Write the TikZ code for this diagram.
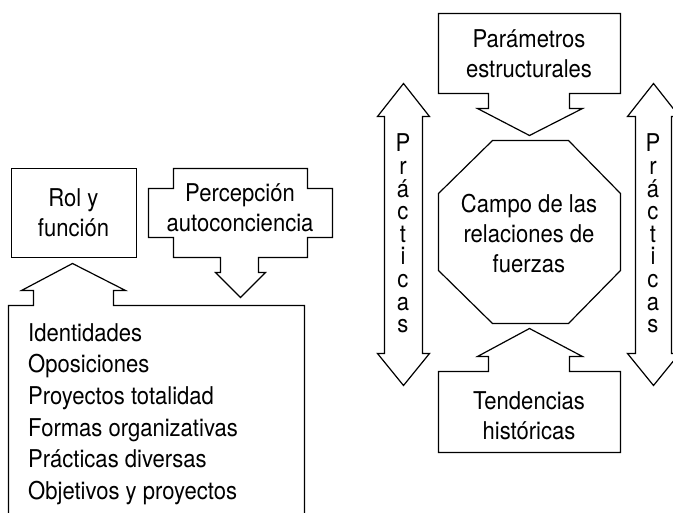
\documentclass[tikz,border=0pt]{standalone}
\usepackage{fontspec}
\setmainfont{TeX Gyre Heros}[FakeStretch=0.9]
\begin{document}
\begin{tikzpicture}[x=1pt,y=-1pt,
  shape line/.style={draw=black, line width=1.2pt, line join=miter},
  boxtext/.style={font=\fontsize{24.5}{30}\selectfont, align=center, inner sep=0pt, anchor=base},
  listtext/.style={font=\fontsize{24.5}{31.7}\selectfont, align=left, inner sep=0pt, anchor=base west},
  vtext/.style={font=\fontsize{24.5}{22.6}\selectfont, align=center, inner sep=0pt, anchor=base}]
\clip (0,0) rectangle (673,513);
\fill[white] (0,0) rectangle (673,513);

\begin{scope}[shift={(0.5,0.5)}]
% Rol y funcion
\draw[shape line] (11,168) rectangle (136,257);
% Percepcion autoconciencia
\draw[shape line] (173,168) -- (307,168) -- (307,188) -- (332,188) -- (332,237) -- (307,237) -- (307,257)
  -- (258,257) -- (258,272) -- (265,272) -- (240,297) -- (215,272) -- (220,272) -- (220,257)
  -- (173,257) -- (173,237) -- (148,237) -- (148,188) -- (173,188) -- cycle;
% Big list box
\draw[shape line] (8,530) -- (8,305) -- (33,305) -- (33,290) -- (21,290) -- (72,263) -- (125,290)
  -- (113,290) -- (113,305) -- (304,305) -- (304,530);
% Parametros estructurales
\draw[shape line] (438,13) -- (620,13) -- (620,93) -- (569,93) -- (569,108) -- (582,108) -- (529,135)
  -- (477,108) -- (488,108) -- (488,93) -- (438,93) -- cycle;
% Octagon
\draw[shape line] (492,140) -- (568,140) -- (620,193) -- (620,270) -- (568,323) -- (492,323)
  -- (438,270) -- (438,193) -- cycle;
% Tendencias historicas
\draw[shape line] (438,371) -- (488,371) -- (488,356) -- (477,356) -- (529,328) -- (582,356)
  -- (569,356) -- (569,371) -- (620,371) -- (620,452) -- (438,452) -- cycle;
% Left double arrow
\draw[shape line] (403,83) -- (429,116) -- (422,116) -- (422,353) -- (429,353) -- (403,385)
  -- (377,353) -- (384,353) -- (384,116) -- (377,116) -- cycle;
% Right double arrow
\draw[shape line] (653,83) -- (679,116) -- (671,116) -- (671,353) -- (679,353) -- (653,385)
  -- (627,353) -- (635,353) -- (635,116) -- (627,116) -- cycle;
\end{scope}

\node[boxtext] (rol) at (73.5,237) {Rol y\\función};
\node[boxtext] (perc) at (240,232) {Percepción\\autoconciencia};
\node[listtext] (lista) at (28,499.5) {Identidades\\Oposiciones\\Proyectos totalidad\\Formas organizativas\\Prácticas diversas\\Objetivos y proyectos};
\node[boxtext] (param) at (529,78) {Parámetros\\estructurales};
\node[boxtext] (campo) at (529,273) {Campo de las\\relaciones de\\fuerzas};
\node[boxtext] (tend) at (529,439.5) {Tendencias\\históricas};
\node[vtext] (pracL) at (403,332.8) {P\\r\\á\\c\\t\\i\\c\\a\\s};
\node[vtext] (pracR) at (653,332.8) {P\\r\\á\\c\\t\\i\\c\\a\\s};
\end{tikzpicture}
\end{document}
